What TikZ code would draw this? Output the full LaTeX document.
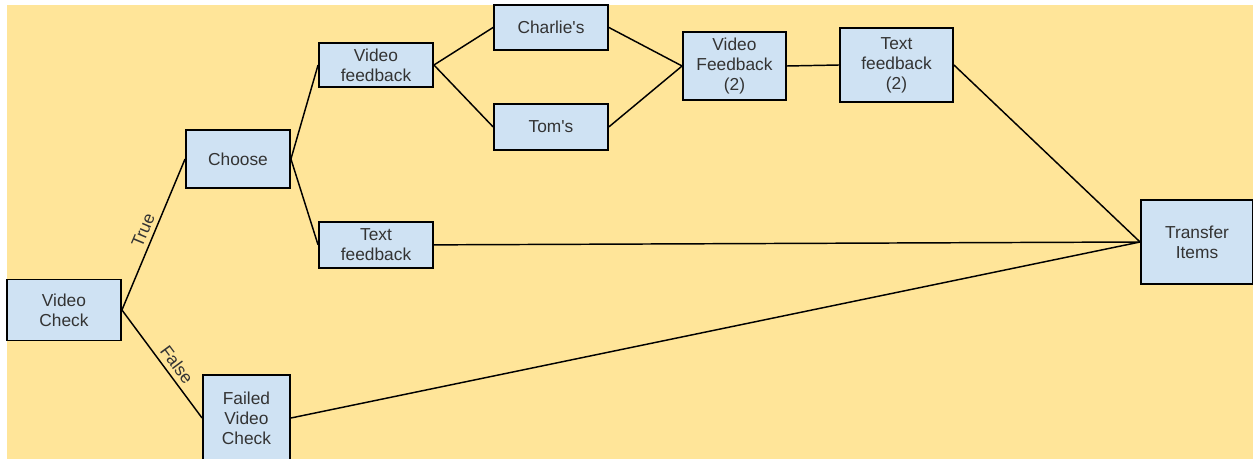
\documentclass[tikz,border=0pt]{standalone}
\usepackage{fontspec}
\setmainfont{Liberation Sans}
\usetikzlibrary{positioning}
\definecolor{padyellow}{HTML}{FFE599}
\definecolor{cardblue}{HTML}{CFE2F3}
\tikzset{
  card/.style={rectangle,draw=black,line width=1.4pt,fill=cardblue,align=center,inner sep=1pt,text=black!80,font=\fontsize{13}{15}\selectfont},
  link/.style={line width=1.1pt},
  tag/.style={midway,sloped,above,text=black!80,font=\fontsize{13}{15}\selectfont}
}

\begin{document}
\begin{tikzpicture}[x=0.75pt,y=-0.75pt]
\useasboundingbox (0,0) rectangle (1253,459);
\fill[white] (0,0) rectangle (1253,459);
\fill[padyellow] (7,5) rectangle (1253,459);
% boxes
\node[card, minimum width=85.5pt, minimum height=45.75pt] (vcheck) at (64,310) {Video\\Check};
\node[card, minimum width=78pt, minimum height=43.5pt] (choose) at (238,159) {Choose};
\node[card, minimum width=65.25pt, minimum height=64.5pt] (failed) at (246.5,418) {Failed\\Video\\Check};
\node[card, minimum width=85.5pt, minimum height=33pt] (vfb) at (376,65) {Video\\feedback};
\node[card, minimum width=85.5pt, minimum height=34.5pt, below=99.75pt of vfb] (tfb) {Text\\feedback};
\node[card, minimum width=85.5pt, minimum height=33.75pt] (charlie) at (551,27.5) {Charlie\textquotesingle s};
\node[card, minimum width=85.5pt, minimum height=34.5pt, below=39pt of charlie] (tom) {Tom\textquotesingle s};
\node[card, minimum width=77.25pt, minimum height=51pt] (vfbtwo) at (734.5,66) {Video\\Feedback\\(2)};
\node[card, minimum width=84.75pt, minimum height=55.5pt] (tfbtwo) at (896.5,65) {Text\\feedback\\(2)};
\node[card, minimum width=84pt, minimum height=63pt] (transfer) at (1197,242) {Transfer\\Items};
% links
\draw[link] (vcheck.east) -- node[tag] {True} (choose.west);
\draw[link] (vcheck.east) -- node[tag, pos=0.57] {False} (failed.west);
\draw[link] (choose.east) -- (vfb.west);
\draw[link] (choose.east) -- (tfb.west);
\draw[link] (vfb.east) -- (charlie.west);
\draw[link] (vfb.east) -- (tom.west);
\draw[link] (charlie.east) -- (vfbtwo.west);
\draw[link] (tom.east) -- (vfbtwo.west);
\draw[link] (vfbtwo.east) -- (tfbtwo.west);
\draw[link] (tfbtwo.east) -- (transfer.west);
\draw[link] (tfb.east) -- (transfer.west);
\draw[link] (failed.east) -- (transfer.west);
\end{tikzpicture}
\end{document}
